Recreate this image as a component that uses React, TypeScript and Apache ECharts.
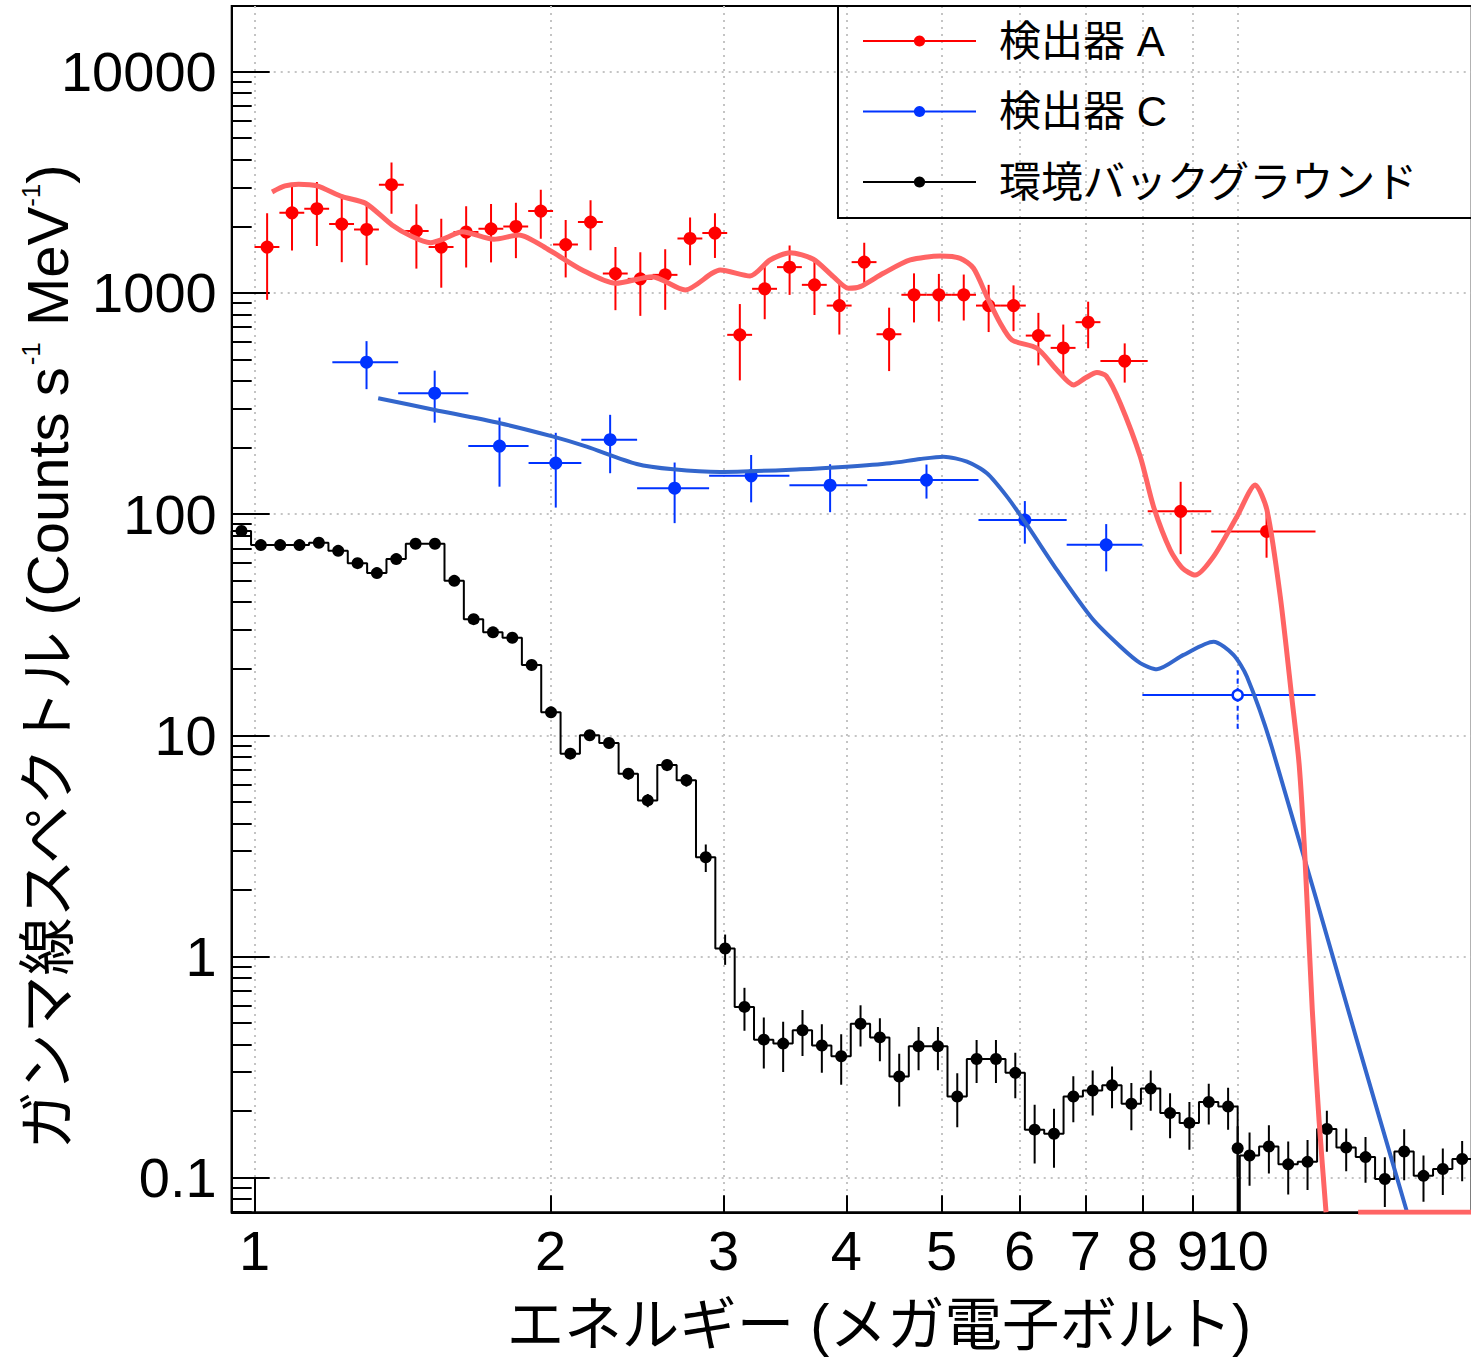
import React, { useEffect, useRef } from "react";
import * as echarts from "echarts";

// ---------- axis ranges & ticks ----------
const X_MIN = 0.948;
const X_MAX = 17.3;
const Y_MIN = 0.0698;
const Y_MAX = 19800;

const X_TICK_LABELS = [1, 2, 3, 4, 5, 6, 7, 8, 9];
const X_DECADE_TICKS = [1, 10];
const X_DECADE_LABELS = [10];
const Y_TICK_LABELS = [0.1, 1, 10, 100, 1000, 10000];
const Y_MINOR_TICKS = [
  0.07, 0.08, 0.09, 0.2, 0.3, 0.4, 0.5, 0.6, 0.7, 0.8, 0.9, 2, 3, 4, 5, 6, 7, 8, 9,
  20, 30, 40, 50, 60, 70, 80, 90, 200, 300, 400, 500, 600, 700, 800, 900,
  2000, 3000, 4000, 5000, 6000, 7000, 8000, 9000,
];

const NAME_A = "検出器 A";
const NAME_C = "検出器 C";
const NAME_BG = "環境バックグラウンド";
const X_TITLE = "エネルギー (メガ電子ボルト)";
const Y_TITLE_MAIN = "ガンマ線スペクトル (Counts s";
const Y_TITLE_UNIT = " MeV";
const Y_TITLE_EXP = "-1";

// ---------- detector A (red) ----------
const RED_EDGES = [
  1.0, 1.06, 1.1236, 1.191, 1.2625, 1.3382, 1.4185, 1.5036, 1.5938, 1.6895, 1.7908,
  1.8983, 2.0122, 2.1329, 2.2609, 2.3966, 2.5404, 2.6928, 2.8543, 3.0256, 3.2071,
  3.3996, 3.6035, 3.8197, 4.0489, 4.2919, 4.5494, 4.8223, 5.1117, 5.4184, 5.7435,
  6.0881, 6.4534, 6.8406, 7.251, 8.1, 9.4, 12.0,
];
const RED_Y = [
  1610, 2301, 2400, 2046, 1934, 3082, 1902, 1610, 1882, 1948, 1995, 2343, 1654, 2089,
  1223, 1157, 1206, 1761, 1863, 646, 1043, 1307, 1087, 876, 1377, 650, 980, 980, 980,
  876, 876, 641, 564, 737, 492, 102.9, 83.5,
];
const RED_ERR = [
  680, 745, 770, 670, 600, 805, 615, 555, 580, 575, 560, 585, 480, 530, 388, 370, 368,
  428, 425, 244, 283, 328, 293, 228, 306, 207, 245, 238, 230, 211, 205, 171, 155, 175,
  99, 37, 20,
];
const RED_FIT_X = [
  1.042, 1.074, 1.109, 1.158, 1.228, 1.297, 1.38, 1.446, 1.51, 1.566, 1.626, 1.752,
  1.857, 1.993, 2.154, 2.329, 2.538, 2.743, 2.92, 2.976, 3.192, 3.345, 3.505, 3.702,
  3.879, 4.018, 4.13, 4.361, 4.645, 4.983, 5.222, 5.387, 5.559, 5.735, 5.894, 6.25,
  6.549, 6.809, 6.998, 7.192, 7.351, 7.596, 7.96, 8.212, 8.539, 8.783, 9.054, 9.449,
  9.981, 10.42, 10.71, 11.05, 11.35, 11.55, 11.71, 11.91, 12.1, 12.3,
];
const RED_FIT_Y = [
  2858, 3043, 3097, 3043, 2722, 2542, 2028, 1796, 1686, 1771, 1891, 1747, 1827, 1563,
  1269, 1105, 1184, 1031, 1226, 1269, 1192, 1408, 1520, 1419, 1184, 1049, 1067, 1226,
  1408, 1468, 1433, 1292, 961, 729, 612, 562, 448, 383, 412, 436, 421, 317, 182, 108,
  68.8, 57.1, 53.0, 64.2, 97.3, 135.4, 104.4, 42.3, 14.9, 7.34, 2.73, 0.573, 0.182, 0.0698,
];
// part of the fit that lies under the frame (drawn on the bottom edge)
const RED_FIT_FLOOR_X = [13.26, 17.3];
const RED_FIT_FLOOR_Y = [0.0698, 0.0698];

// ---------- detector C (blue) ----------
const BLUE_EDGES = [1.2, 1.4, 1.65, 1.9, 2.15, 2.45, 2.9, 3.5, 4.2, 5.45, 6.7, 8.0, 12.0];
const BLUE_Y = [486, 352, 203, 170, 217, 131, 149, 135, 142.5, 94, 72.6, 15.2];
const BLUE_ERR = [119, 93, 70, 63, 64, 40, 36, 33, 25, 20.5, 17.5, 4.5];
const BLUE_DASHED = [0, 0, 0, 0, 0, 0, 0, 0, 0, 0, 0, 1];
const BLUE_FIT_X = [
  1.336, 1.526, 1.778, 2.014, 2.177, 2.448, 2.667, 2.976, 3.589, 4.003, 4.43, 4.753,
  5.022, 5.305, 5.559, 5.826, 6.105, 6.549, 7.109, 7.596, 7.96, 8.277, 8.809, 9.449,
  9.902, 10.22, 10.83, 13.22, 14.87,
];
const BLUE_FIT_Y = [
  333.8, 295.6, 257.3, 223.8, 201.7, 168.5, 159.4, 155.0, 159.4, 163.8, 169.7, 177.4,
  181.8, 172.6, 152.9, 119.9, 89.3, 55.9, 33.8, 25.2, 21.2, 19.9, 23.1, 26.5, 23.1,
  18.4, 8.88, 0.419, 0.0698,
];

// ---------- background (black) ----------
const BG1_RANGE = [0.948, 10];
const BG1_Y = [
  83.8, 72.4, 72.4, 72.4, 74.2, 68.2, 60.0, 54.1, 62.6, 73.4, 73.4, 49.9, 33.5, 29.2,
  27.6, 20.8, 12.7, 8.26, 10.0, 9.23, 6.71, 5.08, 7.34, 6.26, 2.81, 1.087, 0.592, 0.421,
  0.404, 0.464, 0.396, 0.354, 0.497, 0.431, 0.287, 0.393, 0.393, 0.233, 0.344, 0.344,
  0.298, 0.165, 0.158, 0.233, 0.248, 0.262, 0.216, 0.253, 0.196, 0.177, 0.22, 0.21,
];
const BG1_ERR = [
  2.5, 2.2, 2.2, 2.2, 2.3, 2.1, 1.9, 1.8, 2.0, 2.2, 2.2, 1.7, 1.3, 1.2, 1.2, 1.0, 0.6,
  0.45, 0.5, 0.5, 0.4, 0.35, 0.45, 0.4, 0.4, 0.17, 0.13, 0.109, 0.103, 0.109, 0.098,
  0.091, 0.105, 0.095, 0.077, 0.087, 0.087, 0.064, 0.076, 0.076, 0.069, 0.049, 0.047,
  0.055, 0.057, 0.056, 0.052, 0.052, 0.045, 0.043, 0.046, 0.045,
];
const BG2_RANGE = [10.05, 17.3];
const BG2_Y = [0.126, 0.1385, 0.115, 0.118, 0.166, 0.137, 0.124, 0.0987, 0.1315, 0.102, 0.1095, 0.1215];
const BG2_ERR = [0.034, 0.034, 0.031, 0.03, 0.035, 0.03, 0.029, 0.025, 0.034, 0.024, 0.026, 0.025];
const BG_EDGE_X = [10];
const BG_EDGE_Y = [0.136];
const BG_EDGE_ERR = [0.035];

// ---------- styles ----------
const RED = "#ff0000";
const RED_FIT = "#ff6464";
const BLUE = "#0033ff";
const BLUE_FIT = "#3366cc";
const BLACK = "#000000";
const GRID_COLOR = "#c4c4c4";
const FONT = "'Liberation Sans', 'Noto Sans CJK JP', sans-serif";

const L = (v: number) => Math.log10(v);
const LMIN = L(Y_MIN);

function logBinEdges(range: number[], n: number) {
  const a = L(range[0]);
  const b = L(range[1]);
  const out: number[] = [];
  for (let i = 0; i <= n; i++) out.push(Math.pow(10, a + ((b - a) * i) / n));
  return out;
}
const centersOf = (edges: number[]) => edges.slice(0, -1).map((e, i) => (e + edges[i + 1]) / 2);

function stepPoints(edges: number[], ys: number[]) {
  const pts: number[][] = [];
  ys.forEach((y, i) => {
    pts.push([L(edges[i]), L(y)], [L(edges[i + 1]), L(y)]);
  });
  return pts;
}

function errRow(xc: number, y: number, xlo: number, xhi: number, err: number, dashed = 0) {
  const lo = y - err > Y_MIN ? y - err : Y_MIN;
  return [L(xc), L(y), L(xlo), L(xhi), L(lo), L(y + err), dashed];
}

function makeErrRender(color: string) {
  return (params: any, api: any) => {
    const y = api.value(1);
    const xc = api.value(0);
    const pl = api.coord([api.value(2), y]);
    const ph = api.coord([api.value(3), y]);
    const pb = api.coord([xc, api.value(4)]);
    const pt = api.coord([xc, api.value(5)]);
    const dashed = api.value(6) === 1;
    const children: any[] = [];
    if (ph[0] - pl[0] > 0.5) {
      children.push({
        type: "line",
        shape: { x1: pl[0], y1: pl[1], x2: ph[0], y2: ph[1] },
        style: { stroke: color, lineWidth: 2 },
      });
    }
    children.push({
      type: "line",
      shape: { x1: pb[0], y1: pb[1], x2: pt[0], y2: pt[1] },
      style: { stroke: color, lineWidth: 2, lineDash: dashed ? [5, 4] : null },
    });
    return { type: "group", children };
  };
}

function findLabel(list: number[], v: number) {
  for (const t of list) if (Math.abs(L(t) - v) < 1e-6) return String(t);
  return "";
}

function buildOption() {
  // red
  const redC = centersOf(RED_EDGES);
  const redErr = redC.map((x, i) => errRow(x, RED_Y[i], RED_EDGES[i], RED_EDGES[i + 1], RED_ERR[i]));
  const redPts = redC.map((x, i) => [L(x), L(RED_Y[i])]);
  const redFit = RED_FIT_X.map((x, i) => [L(x), L(RED_FIT_Y[i])]);
  const redFloor = RED_FIT_FLOOR_X.map((x, i) => [L(x), L(RED_FIT_FLOOR_Y[i])]);
  // blue
  const blueC = centersOf(BLUE_EDGES);
  const blueErr = blueC.map((x, i) =>
    errRow(x, BLUE_Y[i], BLUE_EDGES[i], BLUE_EDGES[i + 1], BLUE_ERR[i], BLUE_DASHED[i])
  );
  const bluePts = blueC.map((x, i) =>
    BLUE_DASHED[i]
      ? {
          value: [L(x), L(BLUE_Y[i])],
          symbolSize: 10,
          itemStyle: { color: "#ffffff", borderColor: BLUE, borderWidth: 2.5 },
        }
      : [L(x), L(BLUE_Y[i])]
  );
  const blueFit = BLUE_FIT_X.map((x, i) => [L(x), L(BLUE_FIT_Y[i])]);
  // background
  const e1 = logBinEdges(BG1_RANGE, BG1_Y.length);
  const e2 = logBinEdges(BG2_RANGE, BG2_Y.length);
  const c1 = centersOf(e1);
  const c2 = centersOf(e2);
  const hist1 = [[L(e1[0]), LMIN], ...stepPoints(e1, BG1_Y), [L(e1[e1.length - 1]), LMIN]];
  const hist2 = [[L(e2[0]), LMIN], ...stepPoints(e2, BG2_Y), [L(e2[e2.length - 1]), LMIN]];
  const bgErr = [
    ...c1.map((x, i) => errRow(x, BG1_Y[i], x, x, BG1_ERR[i])),
    ...BG_EDGE_X.map((x, i) => errRow(x, BG_EDGE_Y[i], x, x, BG_EDGE_ERR[i])),
    ...c2.map((x, i) => errRow(x, BG2_Y[i], x, x, BG2_ERR[i])),
  ];
  const bgPts = [
    ...c1.map((x, i) => [L(x), L(BG1_Y[i])]),
    ...BG_EDGE_X.map((x, i) => [L(x), L(BG_EDGE_Y[i])]),
    ...c2.map((x, i) => [L(x), L(BG2_Y[i])]),
  ];

  const axisLineStyle = { color: BLACK, width: 2 };
  const gridLine = { show: true, lineStyle: { color: GRID_COLOR, width: 2, type: [2, 5] } };
  const tickFont = { fontSize: 56, lineHeight: 56, fontFamily: FONT, color: BLACK };

  const pointSeries = (name: string, color: string, data: any[], size: number) => ({
    type: "line",
    name,
    data,
    symbol: "circle",
    symbolSize: size,
    showSymbol: true,
    showAllSymbol: true,
    itemStyle: { color, borderWidth: 0 },
    lineStyle: { color, width: 0, opacity: 0 },
    emphasis: { disabled: true },
    silent: true,
    z: 4,
  });
  const errSeries = (color: string, data: any[]) => ({
    type: "custom",
    data,
    renderItem: makeErrRender(color),
    encode: { x: 0, y: 1 },
    clip: true,
    silent: true,
    z: 3,
  });
  const curve = (color: string, width: number, data: any[], z: number) => ({
    type: "line",
    data,
    symbol: "none",
    smooth: 0.25,
    lineStyle: { color, width, join: "round" },
    clip: true,
    silent: true,
    z,
  });

  return {
    animation: false,
    backgroundColor: "#ffffff",
    grid: {
      show: true,
      left: 231.7,
      top: 6,
      width: 1240,
      height: 1206.3,
      borderColor: BLACK,
      borderWidth: 2,
      backgroundColor: "transparent",
      containLabel: false,
      outerBoundsMode: "none",
    },
    xAxis: [
      {
        type: "value",
        position: "bottom",
        min: L(X_MIN),
        max: L(X_MAX),
        axisLine: { show: true, onZero: false, lineStyle: axisLineStyle },
        axisTick: {
          show: true,
          inside: true,
          length: 17,
          customValues: [...X_TICK_LABELS, ...X_DECADE_LABELS].map(L),
          lineStyle: axisLineStyle,
        },
        axisLabel: {
          show: true,
          customValues: X_TICK_LABELS.map(L),
          formatter: (v: number) => findLabel(X_TICK_LABELS, v),
          margin: 10,
          hideOverlap: false,
          showMinLabel: true,
          showMaxLabel: true,
          ...tickFont,
        },
        splitLine: gridLine,
        minorTick: { show: false },
      },
      {
        type: "value",
        position: "bottom",
        offset: 0,
        min: L(X_MIN),
        max: L(X_MAX),
        axisLine: { show: false, onZero: false },
        axisTick: {
          show: true,
          inside: true,
          length: 34,
          customValues: X_DECADE_TICKS.map(L),
          lineStyle: axisLineStyle,
        },
        axisLabel: {
          show: true,
          customValues: X_DECADE_LABELS.map(L),
          formatter: (v: number) => findLabel(X_DECADE_LABELS, v),
          margin: 10,
          hideOverlap: false,
          showMinLabel: true,
          showMaxLabel: true,
          ...tickFont,
        },
        splitLine: { show: false },
      },
    ],
    yAxis: [
      {
        type: "value",
        position: "left",
        min: L(Y_MIN),
        max: L(Y_MAX),
        axisLine: { show: true, onZero: false, lineStyle: axisLineStyle },
        axisTick: {
          show: true,
          inside: true,
          length: 38,
          customValues: Y_TICK_LABELS.map(L),
          lineStyle: axisLineStyle,
        },
        axisLabel: {
          show: true,
          customValues: Y_TICK_LABELS.map(L),
          formatter: (v: number) => findLabel(Y_TICK_LABELS, v),
          margin: 15,
          padding: [10, 0, 0, 0],
          hideOverlap: false,
          showMinLabel: true,
          showMaxLabel: true,
          ...tickFont,
        },
        splitLine: gridLine,
      },
      {
        type: "value",
        position: "left",
        offset: 0,
        min: L(Y_MIN),
        max: L(Y_MAX),
        axisLine: { show: false, onZero: false },
        axisTick: {
          show: true,
          inside: true,
          length: 20,
          customValues: Y_MINOR_TICKS.map(L),
          lineStyle: axisLineStyle,
        },
        axisLabel: { show: false },
        splitLine: { show: false },
      },
    ],
    legend: {
      data: [NAME_A, NAME_C, NAME_BG],
      orient: "vertical",
      left: 838,
      top: 6,
      padding: [14, 80, 15, 24],
      itemGap: 28.5,
      itemWidth: 113,
      itemHeight: 14,
      borderColor: BLACK,
      borderWidth: 2,
      borderRadius: 0,
      backgroundColor: "transparent",
      selectedMode: false,
      textStyle: {
        fontSize: 42,
        lineHeight: 42,
        color: BLACK,
        fontFamily: FONT,
        padding: [0, 0, 0, 18],
      },
      lineStyle: { width: 2, opacity: 1, type: "solid" },
      itemStyle: { borderWidth: 0, opacity: 1 },
    },
    graphic: [
      {
        type: "text",
        x: 879,
        y: 1325,
        silent: true,
        style: {
          text: X_TITLE,
          fontSize: 57.5,
          fontFamily: FONT,
          fill: BLACK,
          align: "center",
          verticalAlign: "middle",
        },
      },
      {
        type: "text",
        x: 47,
        y: 658,
        rotation: Math.PI / 2,
        silent: true,
        style: {
          text: `{n|${Y_TITLE_MAIN}}{s|${Y_TITLE_EXP}}{n|${Y_TITLE_UNIT}}{s|${Y_TITLE_EXP}}{n|)}`,
          fontSize: 58,
          fontFamily: FONT,
          fill: BLACK,
          align: "center",
          verticalAlign: "middle",
          rich: {
            n: { fontSize: 58, lineHeight: 58, fontFamily: FONT, fill: BLACK, verticalAlign: "middle" },
            s: { fontSize: 26, lineHeight: 34, fontFamily: FONT, fill: BLACK, verticalAlign: "top" },
          },
        },
      },
    ],
    series: [
      { type: "line", data: hist1, symbol: "none", lineStyle: { color: BLACK, width: 2 }, silent: true, z: 2 },
      { type: "line", data: hist2, symbol: "none", lineStyle: { color: BLACK, width: 2 }, silent: true, z: 2 },
      errSeries(BLACK, bgErr),
      pointSeries(NAME_BG, BLACK, bgPts, 12),
      errSeries(BLUE, blueErr),
      pointSeries(NAME_C, BLUE, bluePts, 13),
      errSeries(RED, redErr),
      pointSeries(NAME_A, RED, redPts, 13),
      curve(BLUE_FIT, 4, blueFit, 5),
      curve(RED_FIT, 5, redFit, 6),
      curve(RED_FIT, 5, redFloor, 6),
    ],
  };
}

export default function App() {
  const ref = useRef<HTMLDivElement>(null);
  useEffect(() => {
    document.body.style.margin = "0";
    const chart = echarts.init(ref.current as HTMLDivElement, null, { renderer: "svg" });
    chart.setOption(buildOption() as any);
    return () => chart.dispose();
  }, []);
  return (
    <div
      ref={ref}
      style={{ position: "absolute", left: 0, top: 0, width: 1471, height: 1359, background: "#fff" }}
    />
  );
}
